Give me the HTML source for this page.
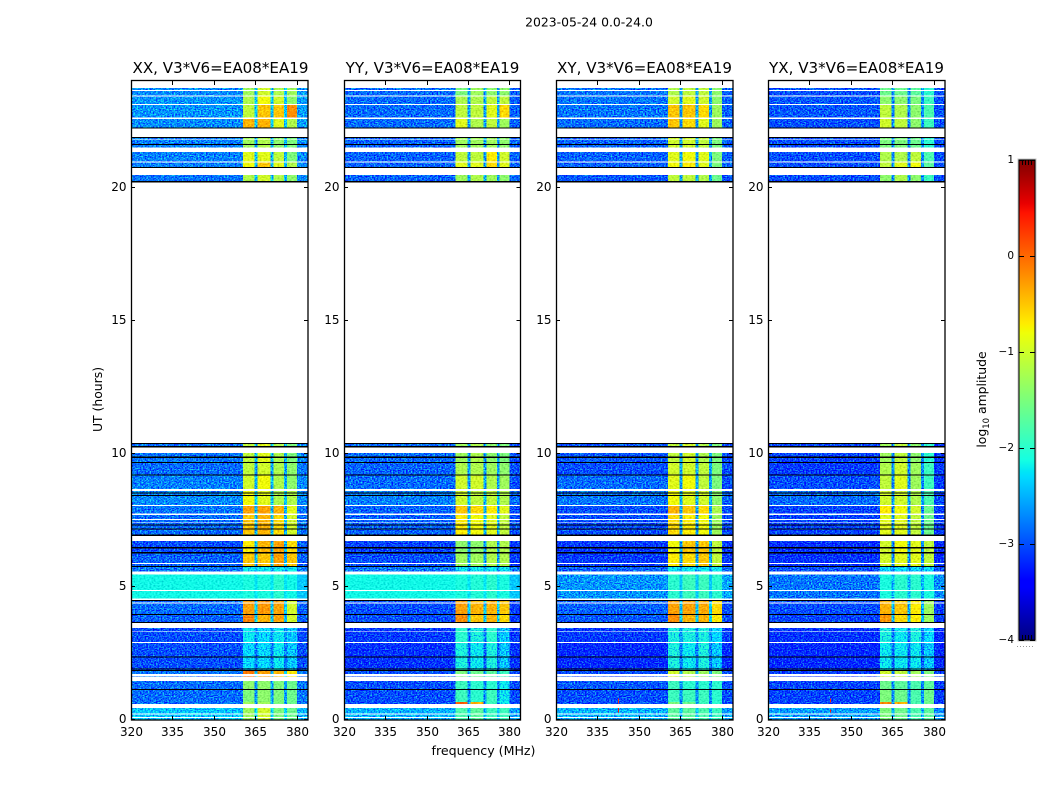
<!DOCTYPE html>
<html lang="en">
<head>
<meta charset="utf-8">
<title>2023-05-24 0.0-24.0</title>
<style>
html,body{margin:0;padding:0;background:#fff;}
svg{display:block;}
text{font-family:"DejaVu Sans","Liberation Sans",sans-serif;fill:#000;}
</style>
</head>
<body>
<svg id="chart" xmlns="http://www.w3.org/2000/svg" width="1050" height="800" viewBox="0 0 1050 800">
  <defs>
    <filter id="speckle-strong" x="0" y="0" width="1" height="1" color-interpolation-filters="sRGB">
      <feTurbulence type="fractalNoise" baseFrequency="0.62 0.85" numOctaves="1" seed="4" result="n"/>
      <feColorMatrix in="n" type="matrix" values="0.45 0 0 0 0.275  2.0 0 0 0 -0.5  -0.3 0 0 0 0.65  0 0 0 0 1" result="m"/>
      <feComposite in="SourceGraphic" in2="m" operator="arithmetic" k1="0" k2="1" k3="1" k4="-0.5" result="c"/>
      <feComposite in="c" in2="SourceAlpha" operator="in"/>
    </filter>
    <filter id="speckle-weak" x="0" y="0" width="1" height="1" color-interpolation-filters="sRGB">
      <feTurbulence type="fractalNoise" baseFrequency="0.5 0.7" numOctaves="1" seed="9" result="n"/>
      <feColorMatrix in="n" type="matrix" values="0.4 0 0 0 0.3  0.6 0 0 0 0.2  0.3 0 0 0 0.35  0 0 0 0 1" result="m"/>
      <feComposite in="SourceGraphic" in2="m" operator="arithmetic" k1="0" k2="1" k3="1" k4="-0.5" result="c"/>
      <feComposite in="c" in2="SourceAlpha" operator="in"/>
    </filter>
    <linearGradient id="jet-gradient" x1="0" y1="1" x2="0" y2="0"></linearGradient>
  </defs>

  <text x="589" y="26.5" font-size="12.4" text-anchor="middle">2023-05-24 0.0-24.0</text>

  <g id="panel-0"></g>
  <g id="panel-1"></g>
  <g id="panel-2"></g>
  <g id="panel-3"></g>

  <text x="220.5" y="73" font-size="15.1" text-anchor="middle">XX, V3*V6=EA08*EA19</text>
  <text x="432.5" y="73" font-size="15.1" text-anchor="middle">YY, V3*V6=EA08*EA19</text>
  <text x="644.5" y="73" font-size="15.1" text-anchor="middle">XY, V3*V6=EA08*EA19</text>
  <text x="856.5" y="73" font-size="15.1" text-anchor="middle">YX, V3*V6=EA08*EA19</text>

  <text transform="translate(102,399.5) rotate(-90)" font-size="12.4" text-anchor="middle">UT (hours)</text>
  <text x="483.5" y="755" font-size="12.6" text-anchor="middle">frequency (MHz)</text>

  <g id="colorbar"></g>
  <text transform="translate(986,399.5) rotate(-90)" font-size="12.4" text-anchor="middle">log<tspan font-size="8.5" dy="3">10</tspan><tspan dy="-3"> amplitude</tspan></text>
</svg>

<script>
// ---- Axis ticks ----
const hourTicks = [0, 5, 10, 15, 20];
const freqTicks = [320, 335, 350, 365, 380];
const cbarTicks = [-4, -3, -2, -1, 0, 1];
const cbarTickLabels = ['\u22124', '\u22123', '\u22122', '\u22121', '0', '1'];

// ---- Frequency segments (MHz) and which level column each uses ----
const freqEdges = [320, 360.5, 364.7, 365.8, 370.5, 371.6, 375.4, 376.4, 380, 384];
const segmentColumn = [0, 1, 5, 2, 5, 3, 5, 4, 6];

// ---- Observed time rows (hours); anything not listed is unflagged-out white ----
const rowTop = [23.74,23.62,23.41,23.10,22.58,21.85,21.78,21.60,21.33,20.93,20.47,10.37,10.03,9.84,9.66,9.19,8.60,8.51,8.42,8.03,7.70,7.51,7.39,7.31,7.16,6.72,6.45,6.26,5.85,5.76,5.47,4.85,4.47,4.37,3.94,3.46,3.32,2.89,2.35,1.90,1.84,1.66,1.46,1.13,0.67,0.46,0.20,0.08];
const rowBottom = [23.66,23.45,23.14,22.62,22.26,21.80,21.63,21.51,20.97,20.77,20.24,10.30,9.89,9.69,9.23,8.68,8.55,8.46,8.07,7.75,7.55,7.42,7.35,7.20,6.97,6.49,6.31,5.89,5.78,5.57,4.88,4.57,4.41,3.98,3.69,3.35,2.93,2.39,1.94,1.87,1.73,1.63,1.16,0.67,0.60,0.25,0.12,0.00];
const rowGroup = ['A','A','B','C','D','E','E','E','F','G','H','I','I','I','J','K','L','L','L','M','N','N','N','N','N','O','O','P','P','p','Q','Q','R','R','S','T','T','U','U','U','V','V','W','X','x','Y','Y','Y'];

// ---- Zero-amplitude (black) rows, hours ----
const blackTop = [22.26,21.90,21.63,20.77,20.24,10.40,10.30,9.89,9.69,9.23,8.55,8.46,7.35,7.20,6.97,6.49,6.31,5.78,4.51,3.98,3.69,2.39,1.94,1.87,1.16];
const blackBottom = [22.22,21.85,21.60,20.73,20.19,10.37,10.23,9.84,9.66,9.19,8.51,8.42,7.31,7.16,6.91,6.45,6.26,5.76,4.47,3.94,3.65,2.35,1.90,1.84,1.13];

// ---- log10 amplitude per group: [left bg, band1, band2, band3, band4, notch, right bg] ----
const levelsXX = {
  A:[-2.70,-1.3,-1.0,-1.2,-1.3,-2.4,-2.6], B:[-2.65,-1.2,-0.8,-1.0,-1.4,-2.4,-2.6],
  C:[-2.65,-1.1,-0.5,-0.5,-0.2,-2.4,-2.6], D:[-2.70,-0.4,-0.4,-0.9,-1.2,-2.4,-2.6],
  E:[-2.75,-1.3,-1.2,-1.4,-1.5,-2.5,-2.7], F:[-2.75,-0.9,-0.9,-1.1,-1.5,-2.5,-2.7],
  G:[-2.75,-0.8,-0.5,-0.9,-1.2,-2.5,-2.7], H:[-2.80,-1.2,-1.0,-1.2,-1.4,-2.5,-2.7],
  I:[-2.80,-1.1,-0.9,-1.2,-1.5,-2.5,-2.7], J:[-2.85,-1.1,-1.0,-1.2,-1.4,-2.6,-2.8],
  K:[-2.75,-1.0,-0.8,-1.2,-1.4,-2.5,-2.7], L:[-2.70,-0.8,-0.9,-1.2,-1.2,-2.4,-2.7],
  M:[-2.80,-0.3,-0.3,-0.4,-0.9,-2.5,-2.8], N:[-2.85,-0.5,-0.4,-0.6,-1.0,-2.5,-2.8],
  O:[-3.00,-0.7,-0.4,-0.3,-0.6,-2.5,-2.9], P:[-2.90,-0.5,-0.5,-0.3,-0.5,-2.5,-2.9],
  p:[-2.80,-2.2,-2.2,-2.2,-2.2,-2.5,-2.8], Q:[-2.15,-2.1,-2.1,-2.0,-2.15,-2.25,-2.4],
  R:[-2.85,-0.3,-0.25,-0.3,-1.0,-2.4,-2.9], S:[-2.90,-0.15,-0.4,-0.3,-1.0,-2.4,-2.9],
  T:[-3.00,-2.2,-2.3,-2.2,-2.4,-2.7,-3.0], U:[-3.00,-2.3,-2.3,-2.2,-2.4,-2.8,-3.0],
  V:[-2.80,-0.1,-0.3,-0.4,-0.7,-2.4,-2.8], W:[-2.85,-1.4,-1.4,-1.5,-1.6,-2.6,-2.8],
  X:[-2.85,-1.5,-1.4,-1.5,-1.6,-2.6,-2.8], x:[-2.85,-1.3,-1.3,-1.5,-1.6,-2.6,-2.8],
  Y:[-2.40,-1.3,-1.0,-1.5,-1.6,-2.3,-2.5]
};
const levelsYY = {
  A:[-2.85,-1.5,-1.3,-1.4,-1.4,-2.6,-2.9], B:[-2.85,-1.2,-1.2,-1.1,-1.1,-2.6,-2.9],
  C:[-2.85,-1.1,-1.1,-0.9,-0.6,-2.6,-2.9], D:[-2.85,-0.9,-1.2,-1.1,-1.3,-2.6,-2.9],
  E:[-2.90,-1.3,-1.3,-1.3,-1.4,-2.6,-2.9], F:[-2.90,-1.1,-1.1,-0.7,-1.0,-2.6,-2.9],
  G:[-2.90,-0.9,-0.9,-0.6,-0.9,-2.6,-2.9], H:[-2.90,-1.3,-1.2,-1.3,-1.4,-2.6,-2.9],
  I:[-2.85,-1.3,-1.2,-1.4,-1.5,-2.6,-3.0], J:[-2.90,-1.2,-1.2,-1.3,-1.4,-2.6,-3.0],
  K:[-2.85,-1.0,-1.0,-1.2,-1.3,-2.6,-3.0], L:[-2.75,-1.0,-1.1,-1.1,-1.2,-2.4,-2.85],
  M:[-2.90,-0.5,-0.6,-0.7,-0.9,-2.5,-3.0], N:[-2.90,-0.7,-0.8,-0.9,-1.1,-2.5,-3.0],
  O:[-3.05,-1.4,-1.4,-1.2,-1.2,-2.6,-3.1], P:[-3.00,-1.3,-1.3,-1.2,-1.2,-2.6,-3.1],
  p:[-2.80,-2.2,-2.2,-2.2,-2.2,-2.6,-2.8], Q:[-2.15,-2.1,-2.05,-2.0,-2.1,-2.25,-2.4],
  R:[-3.00,-0.3,-0.4,-0.4,-0.5,-2.4,-3.1], S:[-3.00,-0.2,-0.5,-0.4,-0.6,-2.4,-3.1],
  T:[-3.10,-2.0,-2.1,-2.0,-2.4,-2.8,-3.1], U:[-3.15,-2.1,-2.2,-2.1,-2.4,-2.9,-3.15],
  V:[-3.00,-1.5,-1.6,-1.7,-1.9,-2.6,-3.0], W:[-3.00,-1.9,-2.0,-2.0,-2.2,-2.7,-3.0],
  X:[-3.00,-1.9,-2.0,-1.9,-2.2,-2.7,-3.0], x:[-3.00,0.05,-0.4,-1.9,-2.2,-2.7,-3.0],
  Y:[-2.50,-1.8,-1.7,-1.9,-1.9,-2.4,-2.6]
};
const levelsXY = {
  A:[-2.80,-1.2,-1.1,-1.1,-1.4,-2.6,-2.9], B:[-2.80,-1.0,-0.9,-1.0,-1.4,-2.6,-2.9],
  C:[-2.80,-0.5,-0.5,-0.6,-1.3,-2.6,-2.9], D:[-2.85,-0.5,-0.6,-0.9,-1.3,-2.6,-2.9],
  E:[-2.90,-1.0,-1.0,-1.1,-1.5,-2.6,-2.9], F:[-2.90,-0.9,-0.8,-0.9,-1.5,-2.6,-2.9],
  G:[-2.90,-0.8,-0.7,-0.9,-1.5,-2.6,-2.9], H:[-2.95,-1.1,-1.1,-1.2,-1.6,-2.6,-3.0],
  I:[-2.95,-1.1,-1.0,-1.2,-1.5,-2.6,-3.0], J:[-3.00,-1.0,-1.0,-1.1,-1.5,-2.6,-3.0],
  K:[-2.85,-0.9,-0.8,-1.1,-1.5,-2.6,-3.0], L:[-2.80,-0.8,-0.9,-1.0,-1.4,-2.5,-2.9],
  M:[-3.00,-0.4,-0.5,-0.6,-1.2,-2.6,-3.0], N:[-3.00,-0.6,-0.7,-0.8,-1.3,-2.6,-3.0],
  O:[-3.10,-0.8,-0.5,-0.5,-1.1,-2.6,-3.1], P:[-3.10,-0.7,-0.6,-0.5,-1.1,-2.6,-3.1],
  p:[-2.90,-2.2,-2.2,-2.2,-2.2,-2.6,-2.9], Q:[-2.65,-2.0,-1.9,-1.9,-2.0,-2.4,-2.55],
  R:[-2.90,-0.3,-0.3,-0.35,-0.6,-2.4,-3.0], S:[-2.95,-0.2,-0.4,-0.4,-0.7,-2.4,-3.0],
  T:[-3.10,-2.1,-2.1,-2.1,-2.3,-2.7,-3.1], U:[-3.20,-2.1,-2.2,-2.1,-2.4,-2.8,-3.2],
  V:[-3.00,-1.0,-1.2,-1.3,-1.5,-2.6,-3.0], W:[-2.95,-1.9,-2.0,-2.0,-2.0,-2.7,-3.0],
  X:[-3.00,-1.9,-1.9,-1.9,-2.0,-2.7,-3.0], x:[-3.00,-1.5,-1.6,-1.9,-2.0,-2.7,-3.0],
  Y:[-2.50,-1.7,-1.7,-1.8,-1.9,-2.4,-2.6]
};
const levelsYX = {
  A:[-3.00,-1.6,-1.6,-1.7,-2.0,-2.7,-3.0], B:[-2.95,-1.4,-1.4,-1.5,-1.9,-2.7,-3.0],
  C:[-2.95,-1.1,-1.2,-1.4,-1.8,-2.7,-3.0], D:[-3.00,-1.0,-1.1,-1.4,-1.9,-2.7,-3.0],
  E:[-3.00,-1.5,-1.5,-1.6,-2.0,-2.7,-3.0], F:[-3.00,-1.2,-1.2,-1.1,-1.8,-2.7,-3.0],
  G:[-3.00,-1.1,-0.9,-0.8,-1.7,-2.7,-3.0], H:[-3.00,-1.4,-1.2,-1.4,-1.9,-2.7,-3.0],
  I:[-3.05,-1.3,-1.1,-1.4,-2.0,-2.7,-3.1], J:[-3.10,-1.2,-1.0,-1.3,-1.9,-2.7,-3.1],
  K:[-3.00,-1.1,-0.9,-1.3,-1.9,-2.7,-3.1], L:[-2.85,-1.0,-1.0,-1.2,-1.8,-2.6,-3.0],
  M:[-3.05,-0.7,-0.8,-1.0,-1.6,-2.7,-3.1], N:[-3.05,-0.9,-0.9,-1.1,-1.6,-2.7,-3.1],
  O:[-3.15,-1.0,-0.8,-0.9,-1.1,-2.7,-3.2], P:[-3.15,-1.0,-0.9,-0.9,-1.1,-2.7,-3.2],
  p:[-3.00,-2.3,-2.3,-2.3,-2.3,-2.7,-3.0], Q:[-2.80,-2.1,-2.0,-2.0,-2.1,-2.5,-2.7],
  R:[-3.00,-0.4,-0.5,-0.7,-1.3,-2.5,-3.1], S:[-3.05,-0.25,-0.6,-0.7,-1.3,-2.5,-3.1],
  T:[-3.15,-2.1,-2.2,-2.1,-2.3,-2.8,-3.2], U:[-3.20,-2.2,-2.2,-2.2,-2.4,-2.9,-3.2],
  V:[-3.10,-1.0,-1.1,-1.3,-1.5,-2.7,-3.1], W:[-3.05,-1.6,-1.7,-1.8,-1.7,-2.7,-3.1],
  X:[-3.05,-1.5,-1.6,-1.8,-1.6,-2.7,-3.1], x:[-3.05,-0.2,-0.4,-1.8,-1.6,-2.7,-3.1],
  Y:[-2.60,-1.5,-1.6,-1.8,-1.7,-2.5,-2.7]
};
const panelLevels = [levelsXX, levelsYY, levelsXY, levelsYX];

// ---- Narrow RFI spikes: panel index, MHz, top hour, bottom hour, log amplitude ----
const rfiPanel = [2, 2, 3, 3];
const rfiFreq = [342.4, 342.4, 342.4, 342.4];
const rfiTop = [0.80, 0.45, 0.80, 0.40];
const rfiBottom = [0.62, 0.28, 0.65, 0.28];
const rfiLevel = [0.3, 0.4, 0.3, 0.4];

// ---- Layout ----
const SVG_NS = 'http://www.w3.org/2000/svg';
const panelLeft = [131, 344, 556, 768];
const panelWidth = [177, 176.5, 177, 177];
const plotTop = 81, plotBottom = 720;
const cbLeft = 1019, cbRight = 1035, cbTop = 160, cbBottom = 640;

function xScale(i, mhz) { return panelLeft[i] + (mhz - 320) * panelWidth[i] / 64; }
function yScale(h) { return plotBottom - h * 26.625; }
function cbScale(v) { return cbBottom - (v + 4) * (cbBottom - cbTop) / 5; }

function lerp(stops, t) {
  for (let k = 1; k < stops.length; k++) {
    if (t <= stops[k][0]) {
      const a = stops[k - 1], b = stops[k];
      return a[1] + (b[1] - a[1]) * (t - a[0]) / (b[0] - a[0]);
    }
  }
  return stops[stops.length - 1][1];
}
const jetR = [[0,0],[0.35,0],[0.66,1],[0.89,1],[1,0.5]];
const jetG = [[0,0],[0.125,0],[0.375,1],[0.64,1],[0.91,0],[1,0]];
const jetB = [[0,0.5],[0.11,1],[0.34,1],[0.65,0],[1,0]];
function jet(t) {
  t = Math.max(0, Math.min(1, t));
  return 'rgb(' + Math.round(255 * lerp(jetR, t)) + ',' + Math.round(255 * lerp(jetG, t)) + ',' + Math.round(255 * lerp(jetB, t)) + ')';
}
function colorOf(v) { return jet((v + 4) / 5); }

function make(tag, attrs, parent) {
  const el = document.createElementNS(SVG_NS, tag);
  for (const k in attrs) el.setAttribute(k, attrs[k]);
  parent.appendChild(el);
  return el;
}

// ---- Panels ----
panelLeft.forEach(function (left, i) {
  const panel = document.getElementById('panel-' + i);
  const levels = panelLevels[i];

  const noisyCells = make('g', {filter: 'url(#speckle-strong)', 'shape-rendering': 'crispEdges'}, panel);
  
  
  const smoothCells = make('g', {filter: 'url(#speckle-weak)', 'shape-rendering': 'crispEdges'}, panel);
  
  

  rowTop.forEach(function (top, r) {
    const vals = levels[rowGroup[r]];
    for (let s = 0; s < segmentColumn.length; s++) {
      const level = vals[segmentColumn[s]];
      const x0 = xScale(i, freqEdges[s]);
      const x1 = xScale(i, freqEdges[s + 1]);
      const y0 = yScale(top);
      const y1 = yScale(rowBottom[r]);
      const isQuietBright = rowGroup[r] === 'Q' && level > -2.45;
      const isNoisy = level < -2.05 && !isQuietBright;
      const cell = make('rect', {x: x0, y: y0, width: x1 - x0, height: y1 - y0, fill: colorOf(level)}, isNoisy ? noisyCells : smoothCells);
      
      
    }
  });

  const marks = make('g', {'shape-rendering': 'crispEdges'}, panel);
  
  

  blackTop.forEach(function (top, b) {
    const y0 = yScale(top);
    const y1 = yScale(blackBottom[b]);
    const line = make('rect', {x: left, y: y0, width: panelWidth[i], height: Math.max(1, y1 - y0), fill: '#000'}, marks);
    
    
  });

  rfiPanel.forEach(function (p, k) {
    if (p !== i) return;
    const spike = make('rect', {x: xScale(i, rfiFreq[k]), y: yScale(rfiTop[k]), width: 1, height: yScale(rfiBottom[k]) - yScale(rfiTop[k]), fill: colorOf(rfiLevel[k])}, marks);
    
    
  });

  const frame = make('rect', {x: left + 0.5, y: plotTop - 0.5, width: panelWidth[i] - 0.5, height: plotBottom - plotTop + 0.5, fill: 'none', stroke: '#000', 'stroke-width': 1.3}, panel);
  
  

  // x ticks and labels
  freqTicks.forEach(function (f) {
    const x = Math.round(xScale(i, f)) + 0.5;
    const tb = make('line', {x1: x, x2: x, y1: plotBottom, y2: plotBottom - 4, stroke: '#000'}, panel);
    
    
    const tt = make('line', {x1: x, x2: x, y1: plotTop, y2: plotTop + 4, stroke: '#000'}, panel);
    
    
    const label = make('text', {x: x, y: plotBottom + 16, 'font-size': 12, 'text-anchor': 'middle'}, panel);
    
    
    label.textContent = String(f);
  });

  // y ticks and labels
  hourTicks.forEach(function (h) {
    const y = Math.round(yScale(h)) - 0.5;
    const right = left + panelWidth[i];
    const tl = make('line', {x1: left, x2: left + 4, y1: y, y2: y, stroke: '#000'}, panel);
    
    
    const tr = make('line', {x1: right, x2: right - 4, y1: y, y2: y, stroke: '#000'}, panel);
    
    
    const label = make('text', {x: left - 4.5, y: y + 3.5, 'font-size': 12, 'text-anchor': 'end'}, panel);
    
    
    label.textContent = String(h);
  });
});

// ---- Colorbar ----
const grad = document.getElementById('jet-gradient');
[0,0.05,0.11,0.125,0.2,0.25,0.34,0.35,0.375,0.45,0.5,0.55,0.64,0.65,0.66,0.75,0.8,0.89,0.91,0.95,1].forEach(function (t) {
  make('stop', {offset: t, 'stop-color': jet(t)}, grad);
});
const cb = document.getElementById('colorbar');
const cbHalo = make('rect', {x: cbLeft - 1, y: cbTop - 1, width: cbRight - cbLeft + 2, height: cbBottom - cbTop + 2, fill: 'none', stroke: '#c4c4c4'}, cb);


const cbRamp = make('rect', {x: cbLeft, y: cbTop, width: cbRight - cbLeft, height: cbBottom - cbTop, fill: 'url(#jet-gradient)', stroke: '#000', 'stroke-width': 1}, cb);



cbarTicks.forEach(function (v, k) {
  const y = Math.round(cbScale(v)) + 0.5;
  const a = make('line', {x1: cbLeft, x2: cbLeft + 5, y1: y, y2: y, stroke: '#000'}, cb);
  
  
  const b = make('line', {x1: cbRight, x2: cbRight - 5, y1: y, y2: y, stroke: '#000'}, cb);
  
  
  const label = make('text', {x: 1014, y: y + 2.5, 'font-size': 10.5, 'text-anchor': 'end'}, cb);
  
  
  label.textContent = cbarTickLabels[k];
});

[1022.5, 1025.5, 1028.5, 1031.5].forEach(function (x) {
  const t = make('line', {x1: x, x2: x, y1: cbTop, y2: cbTop + 5, stroke: '#000'}, cb);
  
  
  const u = make('line', {x1: x, x2: x, y1: cbBottom, y2: cbBottom - 5, stroke: '#000'}, cb);
  
  
});
const cbDots = make('line', {x1: 1017, x2: 1035, y1: 646.5, y2: 646.5, stroke: '#999', 'stroke-dasharray': '1 2'}, cb);


</script>
</body>
</html>
